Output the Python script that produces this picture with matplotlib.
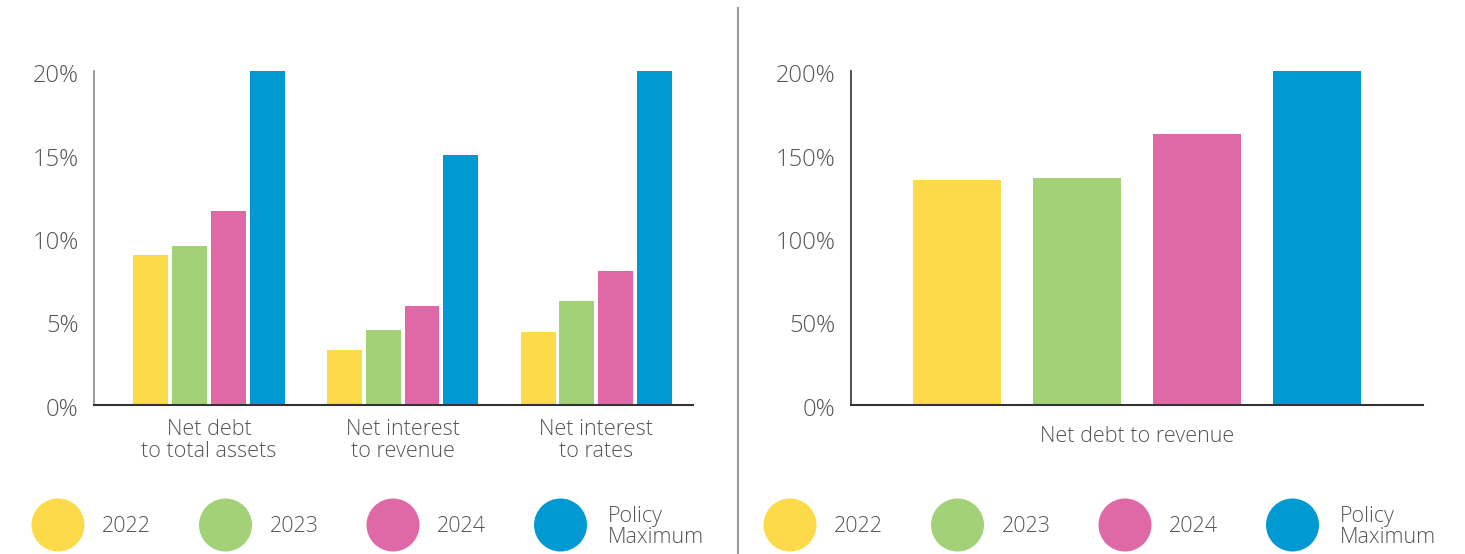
import matplotlib.pyplot as plt
from matplotlib.patches import Ellipse
from matplotlib.lines import Line2D
from matplotlib.transforms import ScaledTranslation
import numpy as np

plt.rcParams['font.family'] = ['Open Sans', 'DejaVu Sans']
plt.rcParams['font.weight'] = 'light'

categories = ['Net debt\nto total assets', 'Net interest\nto revenue', 'Net interest\nto rates']
series_names = ['2022', '2023', '2024', 'Policy\nMaximum']
left_values = {
    '2022': [9.0, 3.3, 4.4],
    '2023': [9.5, 4.5, 6.2],
    '2024': [11.6, 5.9, 8.0],
    'Policy\nMaximum': [20.0, 15.0, 20.0],
}
right_category = 'Net debt to revenue'
right_values = [135, 136, 162, 200]
left_ticks = [0, 5, 10, 15, 20]
right_ticks = [0, 50, 100, 150, 200]
colors = ['#FDDA4A', '#A2D177', '#DF69A6', '#0099D2']

text_col = '#555555'

fig = plt.figure(figsize=(14.65, 5.54), dpi=100)

# left panel
ax1 = fig.add_axes([94 / 1465, 1 - 405 / 554, 599 / 1465, 334 / 554])
x = np.arange(len(categories))
step = 0.2
width = 0.18
for i, name in enumerate(series_names):
    ax1.bar(x + (i - 1.5) * step, left_values[name], width=width, color=colors[i])
ax1.set_ylim(0, 20)
ax1.set_xlim(-0.594, 2.5)
ax1.set_yticks(left_ticks)
ax1.set_yticklabels([f'{t}%' for t in left_ticks])
ax1.set_xticks(x)
ax1.set_xticklabels(categories, linespacing=1.05)

# right panel
ax2 = fig.add_axes([851 / 1465, 1 - 405 / 554, 572 / 1465, 334 / 554])
xr = np.arange(len(right_values))
ax2.bar(xr, right_values, width=0.733, color=colors)
ax2.set_ylim(0, 200)
ax2.set_xlim(-0.883, 3.883)
ax2.set_yticks(right_ticks)
ax2.set_yticklabels([f'{t}%' for t in right_ticks])
ax2.set_xticks([1.5])
ax2.set_xticklabels([right_category])

shift = ScaledTranslation(0, -2 / 100, fig.dpi_scale_trans)
for ax, lcol in [(ax1, '#888888'), (ax2, '#333333')]:
    ax.spines['top'].set_visible(False)
    ax.spines['right'].set_visible(False)
    ax.spines['left'].set_color(lcol)
    ax.spines['left'].set_linewidth(1.2)
    ax.spines['bottom'].set_color('#333333')
    ax.spines['bottom'].set_linewidth(1.5)
    ax.tick_params(axis='y', length=0, pad=11, labelsize=17, labelcolor=text_col)
    ax.tick_params(axis='x', length=0, pad=10, labelsize=15.5, labelcolor=text_col)
    for lbl in ax.get_yticklabels():
        lbl.set_transform(lbl.get_transform() + shift)
ax2.tick_params(axis='x', pad=15)

# separator
fig.add_artist(Line2D([738 / 1465, 738 / 1465], [0, 1 - 8 / 554], transform=fig.transFigure,
                      color='#999999', lw=1.5))

# legends
legend_y = 1 - 525 / 554
text_y = 1 - 527 / 554
for offset in [0, 732]:
    for i, name in enumerate(series_names):
        cx = 58 + offset + i * 167.5
        fig.add_artist(Ellipse((cx / 1465, legend_y), 53 / 1465, 53 / 554,
                               transform=fig.transFigure, color=colors[i], lw=0))
        tx = cx + 44 if i < 3 else cx + 47
        fig.text(tx / 1465, text_y, name, ha='left', va='center', fontsize=15.5,
                 color=text_col, linespacing=1.05)

fig.savefig('out.png', dpi=100, facecolor='white')
